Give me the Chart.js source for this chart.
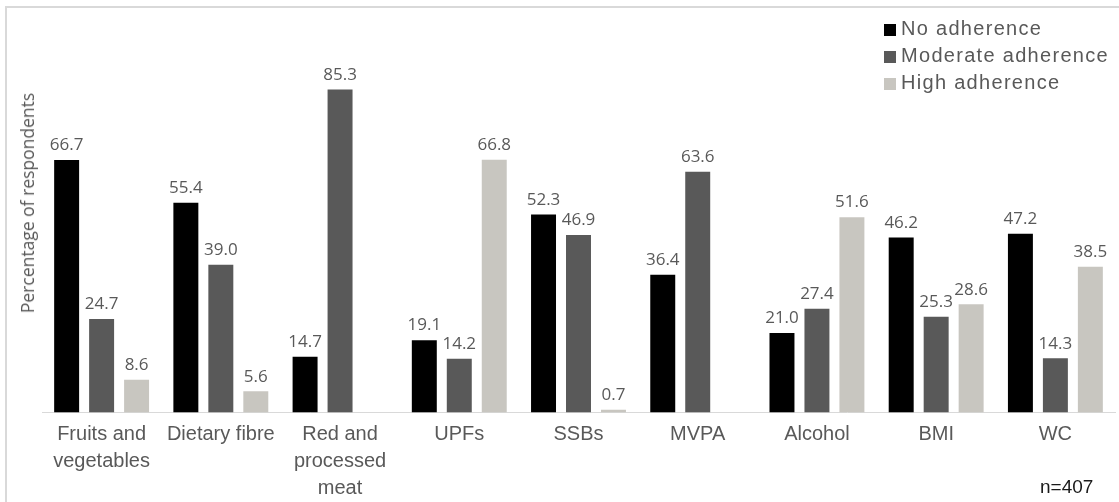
<!DOCTYPE html>
<html>
<head>
<meta charset="utf-8">
<script src="https://cdn.jsdelivr.net/npm/chart.js@4/dist/chart.umd.min.js"></script>
<style>
  html, body { margin: 0; padding: 0; background: #fff; overflow: hidden; }
  #wrap { position: relative; width: 1119px; height: 502px; }
  #frame {
    position: absolute; left: 5px; top: 6px; width: 1300px; height: 700px;
    border-top: 2px solid #d9d9d9; border-left: 2px solid #d9d9d9;
  }
  #chart { position: absolute; left: 0; top: 0; }
  #ytitle {
    position: absolute; left: 27px; top: 203px;
    transform: translate(-50%, -50%) rotate(-90deg);
    font: 17.5px "Open Sans", sans-serif; color: #595959; white-space: nowrap;
  }
  #legend { position: absolute; left: 884px; top: 17px; }
  .item {
    height: 27px; line-height: 27px; white-space: nowrap;
    font: 20px "Liberation Sans", Arial, sans-serif; color: #595959; letter-spacing: 1.3px;
  }
  .item span {
    display: inline-block; width: 12px; height: 12px; margin-right: 5px; vertical-align: -1px;
  }
  #n {
    position: absolute; left: 1040px; top: 476px;
    font: 19px "Liberation Sans", Arial, sans-serif; color: #1a1a1a;
  }
</style>
</head>
<body>
<div id="wrap">
  <div id="frame"></div>
  <canvas id="chart" width="1119" height="502"></canvas>
  <div id="ytitle">Percentage of respondents</div>
  <div id="legend"></div>
  <div id="n">n=407</div>
</div>
<script>
const categories = [
  ["Fruits and", "vegetables"],
  "Dietary fibre",
  ["Red and", "processed", "meat"],
  "UPFs",
  "SSBs",
  "MVPA",
  "Alcohol",
  "BMI",
  "WC",
];
const seriesNames = ["No adherence", "Moderate adherence", "High adherence"];
const noAdherence = [66.7, 55.4, 14.7, 19.1, 52.3, 36.4, 21.0, 46.2, 47.2];
const moderateAdherence = [24.7, 39.0, 85.3, 14.2, 46.9, 63.6, 27.4, 25.3, 14.3];
const highAdherence = [8.6, 5.6, null, 66.8, 0.7, null, 51.6, 28.6, 38.5];
const colors = ["#000000", "#595959", "#c8c6c0"];

const legend = document.getElementById("legend");
legend.innerHTML = seriesNames
  .map(
    (name, i) =>
      `<div class="item"><span style="background:${colors[i]}"></span>${name}</div>`,
  )
  .join("");

// value labels above each bar
const valueLabels = {
  id: "valueLabels",
  afterDatasetsDraw(chart) {
    const ctx = chart.ctx;
    ctx.save();
    ctx.font = '17px "Open Sans", sans-serif';
    ctx.fillStyle = "#595959";
    ctx.textAlign = "center";
    ctx.textBaseline = "bottom";
    chart.data.datasets.forEach((ds, i) => {
      chart.getDatasetMeta(i).data.forEach((bar, j) => {
        const v = ds.data[j];
        if (v === null) return;
        ctx.fillText(v.toFixed(1), bar.x, bar.y - 6);
      });
    });
    ctx.restore();
  },
};

new Chart(document.getElementById("chart"), {
  type: "bar",
  data: {
    labels: categories,
    datasets: [
      { label: seriesNames[0], data: noAdherence, backgroundColor: colors[0] },
      { label: seriesNames[1], data: moderateAdherence, backgroundColor: colors[1] },
      { label: seriesNames[2], data: highAdherence, backgroundColor: colors[2] },
    ],
  },
  options: {
    responsive: false,
    animation: false,
    categoryPercentage: 0.88,
    barPercentage: 0.714,
    layout: { padding: { left: 42, right: 4, top: 34, bottom: -8 } },
    plugins: { legend: { display: false }, tooltip: { enabled: false } },
    scales: {
      x: {
        grid: { display: false, drawTicks: false },
        border: { color: "#d9d9d9", width: 1 },
        ticks: {
          color: "#595959",
          font: { family: '"Liberation Sans", Arial, sans-serif', size: 20, lineHeight: 1.36 },
          padding: 8,
          maxRotation: 0,
          autoSkip: false,
        },
      },
      y: { display: false, min: 0, max: 100 },
    },
  },
  plugins: [valueLabels],
});
</script>
</body>
</html>
